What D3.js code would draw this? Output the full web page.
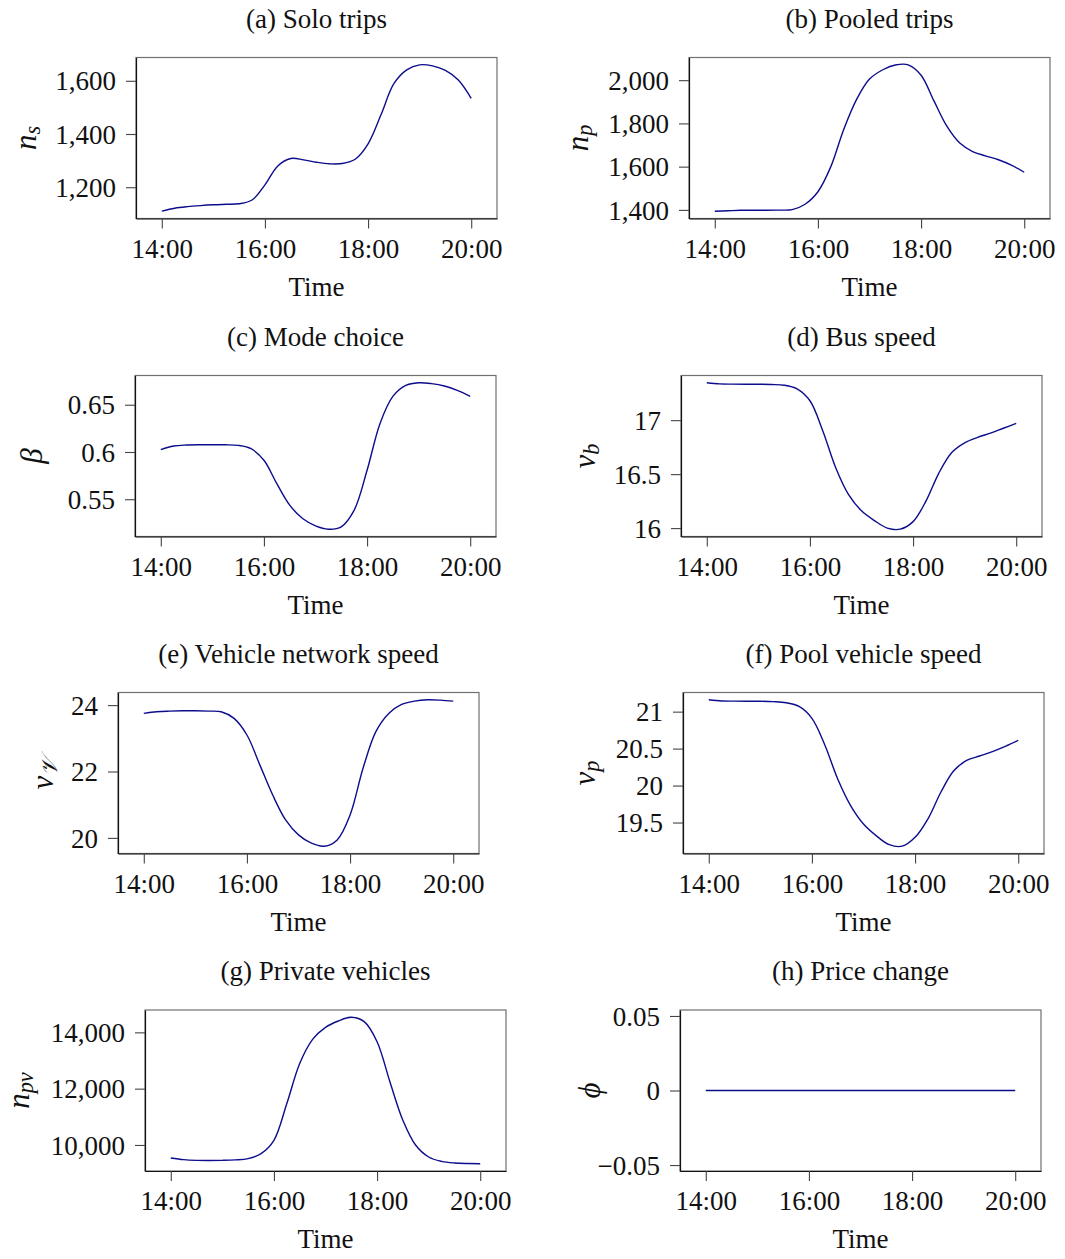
<!DOCTYPE html>
<html>
<head>
<meta charset="utf-8">
<script src="https://cdn.jsdelivr.net/npm/d3@7"></script>
<style>
  body { margin: 0; background: #fff; }
  svg { display: block; font-family: 'Liberation Serif', 'Times New Roman', serif; }
</style>
</head>
<body>
<div id="chart"></div>
<script>
'use strict'

var hours = [14, 14.25, 14.5, 14.75, 15, 15.25, 15.5, 15.75, 16, 16.25, 16.5, 16.75,
  17, 17.25, 17.5, 17.75, 18, 18.25, 18.5, 18.75, 19, 19.25, 19.5, 19.75, 20]

var soloTrips = [1110, 1121, 1127, 1131, 1134, 1136, 1138, 1152, 1209, 1280, 1308, 1303,
  1294, 1288, 1289, 1305, 1363, 1472, 1589, 1641, 1660, 1656, 1639, 1603, 1534]
var pooledTrips = [1394, 1396, 1398, 1398, 1398, 1399, 1401, 1426, 1484, 1600, 1772, 1911,
  2005, 2047, 2070, 2071, 2023, 1904, 1787, 1709, 1670, 1650, 1632, 1607, 1574]
var modeChoice = [0.6025, 0.6063, 0.6074, 0.6077, 0.6077, 0.6076, 0.607, 0.6035, 0.5912, 0.5665, 0.5437, 0.5296,
  0.5218, 0.5183, 0.5208, 0.5384, 0.5806, 0.630, 0.6588, 0.6704, 0.6732, 0.6723, 0.6698, 0.6651, 0.6588]
var busSpeed = [17.346, 17.336, 17.334, 17.333, 17.333, 17.33, 17.324, 17.29, 17.18, 16.90, 16.56, 16.31,
  16.16, 16.07, 16.00, 15.99, 16.06, 16.25, 16.51, 16.70, 16.79, 16.84, 16.88, 16.925, 16.97]
var vehicleSpeed = [23.75, 23.80, 23.82, 23.83, 23.83, 23.82, 23.80, 23.60, 23.10, 22.20, 21.29, 20.54,
  20.09, 19.84, 19.75, 19.94, 20.69, 22.09, 23.20, 23.75, 24.02, 24.12, 24.16, 24.15, 24.12]
var poolSpeed = [21.16, 21.145, 21.142, 21.14, 21.14, 21.135, 21.12, 21.07, 20.91, 20.55, 20.09, 19.73,
  19.48, 19.32, 19.20, 19.18, 19.30, 19.55, 19.91, 20.20, 20.34, 20.40, 20.46, 20.53, 20.61]
var privateVehicles = [9537, 9478, 9454, 9450, 9454, 9470, 9513, 9691, 10166, 11472, 12896, 13751,
  14178, 14404, 14534, 14380, 13668, 12237, 10878, 9988, 9573, 9418, 9359, 9340, 9335]
var priceChange = [0, 0, 0, 0, 0, 0, 0, 0, 0, 0, 0, 0,
  0, 0, 0, 0, 0, 0, 0, 0, 0, 0, 0, 0, 0]

var timeTicks = [14, 16, 18, 20]
var soloTicks = [1200, 1400, 1600]
var pooledTicks = [1400, 1600, 1800, 2000]
var modeTicks = [0.55, 0.6, 0.65]
var busTicks = [16, 16.5, 17]
var vehicleTicks = [20, 22, 24]
var poolTicks = [19.5, 20, 20.5, 21]
var privateTicks = [10000, 12000, 14000]
var priceTicks = [-0.05, 0, 0.05]
var priceDomain = [-0.054, 0.054]

var plain = function (d) { return String(d).replace('-', '\u2212') }
var thousands = d3.format(',')

var panels = [
  { title: '(a) Solo trips', label: ['n', 's'], values: soloTrips, ticks: soloTicks, format: thousands, left: 136, top: 57.5, labelDx: -111 },
  { title: '(b) Pooled trips', label: ['n', 'p'], values: pooledTrips, ticks: pooledTicks, format: thousands, left: 689, top: 57.5, labelDx: -112 },
  { title: '(c) Mode choice', label: ['\u03b2'], values: modeChoice, ticks: modeTicks, format: plain, left: 135, top: 375.5, labelDx: -104 },
  { title: '(d) Bus speed', label: ['v', 'b'], values: busSpeed, ticks: busTicks, format: plain, left: 681, top: 375.5, labelDx: -97 },
  { title: '(e) Vehicle network speed', label: ['v', '\ud835\udcb1'], values: vehicleSpeed, ticks: vehicleTicks, format: plain, left: 118, top: 692.5, labelDx: -76 },
  { title: '(f) Pool vehicle speed', label: ['v', 'p'], values: poolSpeed, ticks: poolTicks, format: plain, left: 683, top: 692.5, labelDx: -99 },
  { title: '(g) Private vehicles', label: ['n', 'pv'], values: privateVehicles, ticks: privateTicks, format: thousands, left: 145, top: 1010, labelDx: -127 },
  { title: '(h) Price change', label: ['\u03d5'], values: priceChange, ticks: priceTicks, format: plain, left: 680, top: 1010, labelDx: -91, domain: priceDomain }
]

var width = 1065
var height = 1259
var plotW = 361
var plotH = 161
var fontSize = 27
var labelSize = 31
var lineColor = '#0c0c8c'

var svg = d3.select('#chart').append('svg')
  .attr('width', width)
  .attr('height', height)

var x = d3.scaleLinear().domain([13.5, 20.5]).range([0, plotW])

function yDomain (p) {
  if (p.domain) return p.domain
  var ext = d3.extent(p.values)
  var pad = (ext[1] - ext[0]) * 0.05
  return [ext[0] - pad, ext[1] + pad]
}

function drawPanel (g, p) {
  var y = d3.scaleLinear().domain(yDomain(p)).range([plotH, 0])

  g.append('rect')
    .attr('width', plotW)
    .attr('height', plotH)
    .attr('fill', 'none')
    .attr('stroke', '#707070')
    .attr('stroke-width', 1.2)

  var xAxis = g.append('g')
    .attr('transform', 'translate(0,' + plotH + ')')
    .call(d3.axisBottom(x).tickValues(timeTicks).tickSizeInner(10).tickSizeOuter(0).tickPadding(10)
      .tickFormat(function (d) { return d + ':00' }))
  var yAxis = g.append('g')
    .call(d3.axisLeft(y).tickValues(p.ticks).tickSizeInner(10).tickSizeOuter(0).tickPadding(10)
      .tickFormat(p.format))

  ;[xAxis, yAxis].forEach(function (a) {
    a.attr('font-family', null)
    a.select('.domain').attr('stroke', '#111').attr('stroke-width', 1.2)
    a.selectAll('.tick line').attr('stroke', '#444').attr('stroke-width', 1.1)
    a.selectAll('.tick text')
      .attr('fill', '#111')
      .style('font-size', fontSize + 'px')
  })
  xAxis.selectAll('.tick text').attr('dy', null).attr('y', 39)
  yAxis.selectAll('.tick text').attr('dy', '0.34em')

  var line = d3.line()
    .x(function (d, i) { return x(hours[i]) })
    .y(function (d) { return y(d) })
    .curve(d3.curveCatmullRom.alpha(0.5))

  g.append('path')
    .datum(p.values)
    .attr('d', line)
    .attr('fill', 'none')
    .attr('stroke', lineColor)
    .attr('stroke-width', 1.4)

  g.append('text')
    .attr('x', plotW / 2)
    .attr('y', -30)
    .attr('text-anchor', 'middle')
    .style('font-size', fontSize + 'px')
    .attr('fill', '#111')
    .text(p.title)

  g.append('text')
    .attr('x', plotW / 2)
    .attr('y', plotH + 77)
    .attr('text-anchor', 'middle')
    .style('font-size', fontSize + 'px')
    .attr('fill', '#111')
    .text('Time')

  var label = g.append('text')
    .attr('transform', 'translate(' + p.labelDx + ',' + plotH / 2 + ') rotate(-90)')
    .attr('text-anchor', 'middle')
    .attr('dominant-baseline', 'central')
    .style('font-size', labelSize + 'px')
    .style('font-style', 'italic')
    .attr('fill', '#111')
  label.append('tspan').text(p.label[0])
  if (p.label[1]) {
    label.append('tspan')
      .attr('dy', '0.3em')
      .style('font-size', '0.72em')
      .text(p.label[1])
  }
}

svg.selectAll('g.panel')
  .data(panels)
  .enter().append('g')
  .classed('panel', true)
  .attr('transform', function (d) { return 'translate(' + d.left + ',' + d.top + ')' })
  .each(function (d) { drawPanel(d3.select(this), d) })
</script>
</body>
</html>
